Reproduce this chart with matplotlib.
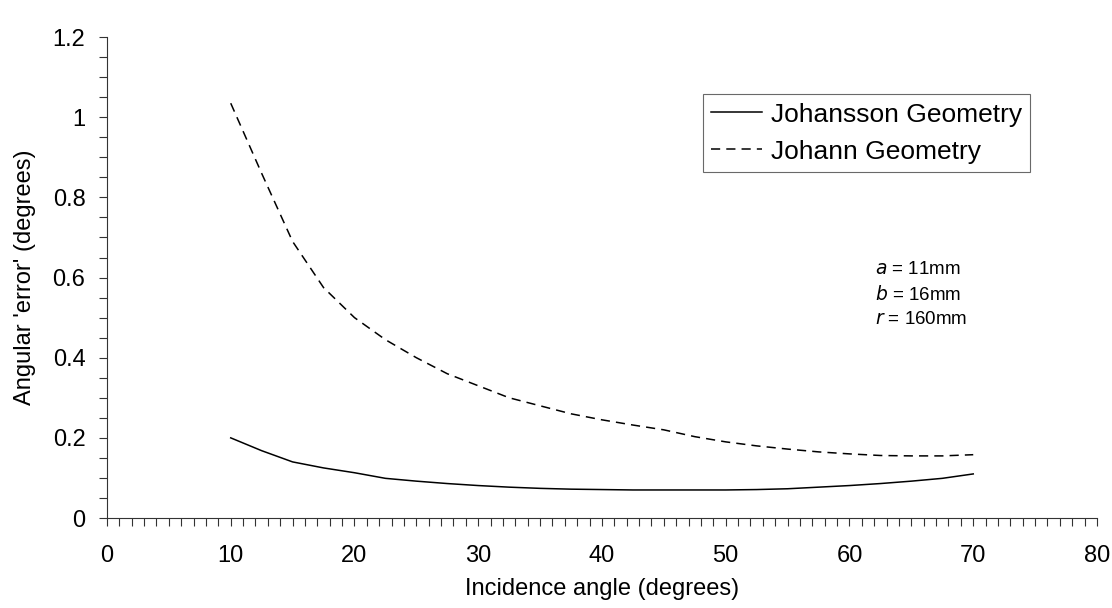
import matplotlib
matplotlib.use("Agg")
import matplotlib.pyplot as plt
from matplotlib.ticker import MultipleLocator, FuncFormatter

plt.rcParams["font.family"] = ["Liberation Sans", "DejaVu Sans"]

# Incidence angle (degrees)
angles = [10, 12.5, 15, 17.5, 20, 22.5, 25, 27.5, 30, 32.5, 35, 37.5, 40,
          42.5, 45, 47.5, 50, 52.5, 55, 57.5, 60, 62.5, 65, 67.5, 70]

# Angular 'error' (degrees)
johansson = [0.200, 0.168, 0.140, 0.125, 0.113, 0.099, 0.092, 0.086, 0.081,
             0.077, 0.074, 0.072, 0.071, 0.070, 0.070, 0.070, 0.070, 0.071,
             0.073, 0.077, 0.081, 0.086, 0.092, 0.099, 0.110]
johann = [1.035, 0.860, 0.690, 0.575, 0.500, 0.445, 0.400, 0.360, 0.330,
          0.300, 0.280, 0.260, 0.245, 0.232, 0.220, 0.203, 0.190, 0.180,
          0.172, 0.165, 0.160, 0.156, 0.155, 0.155, 0.158]

params = ["$a$ = 11mm", "$b$ = 16mm", "$r$ = 160mm"]

fig = plt.figure(figsize=(11.12, 6.08), dpi=100)
ax = fig.add_axes([0.0962, 0.148, 0.8903, 0.791])

ax.plot(angles, johansson, color="black", lw=1.1, label="Johansson Geometry")
ax.plot(angles, johann, color="black", lw=1.1, dashes=(6, 4),
        label="Johann Geometry")

ax.set_xlim(0, 80)
ax.set_ylim(0, 1.2)
ax.xaxis.set_major_locator(MultipleLocator(10))
ax.xaxis.set_minor_locator(MultipleLocator(1))
ax.yaxis.set_major_locator(MultipleLocator(0.2))
ax.yaxis.set_minor_locator(MultipleLocator(0.05))
ax.yaxis.set_major_formatter(FuncFormatter(lambda v, _: f"{v:g}"))

for side in ["top", "right"]:
    ax.spines[side].set_visible(False)
for side in ["left", "bottom"]:
    ax.spines[side].set_linewidth(0.8)
    ax.spines[side].set_color("#333333")

ax.tick_params(which="both", direction="out", length=5.5, width=0.8,
               color="#333333", labelsize=17)
ax.tick_params(axis="x", pad=14)
ax.tick_params(axis="y", pad=10)

ax.set_xlabel("Incidence angle (degrees)", fontsize=17, labelpad=8)
ax.set_ylabel("Angular 'error' (degrees)", fontsize=17, labelpad=12)

leg = ax.legend(loc="upper left", bbox_to_anchor=(0.602, 0.8815),
                fontsize=19, frameon=True, fancybox=False, handlelength=1.9,
                handletextpad=0.35, borderpad=0.32, labelspacing=0.5,
                borderaxespad=0)
leg.get_frame().set_edgecolor("#444444")
leg.get_frame().set_linewidth(0.8)

for i, txt in enumerate(params):
    ax.text(62.1, 0.62 - i * 0.0624, txt, fontsize=13.5, va="center",
            ha="left")

fig.savefig("out.png", dpi=100)
